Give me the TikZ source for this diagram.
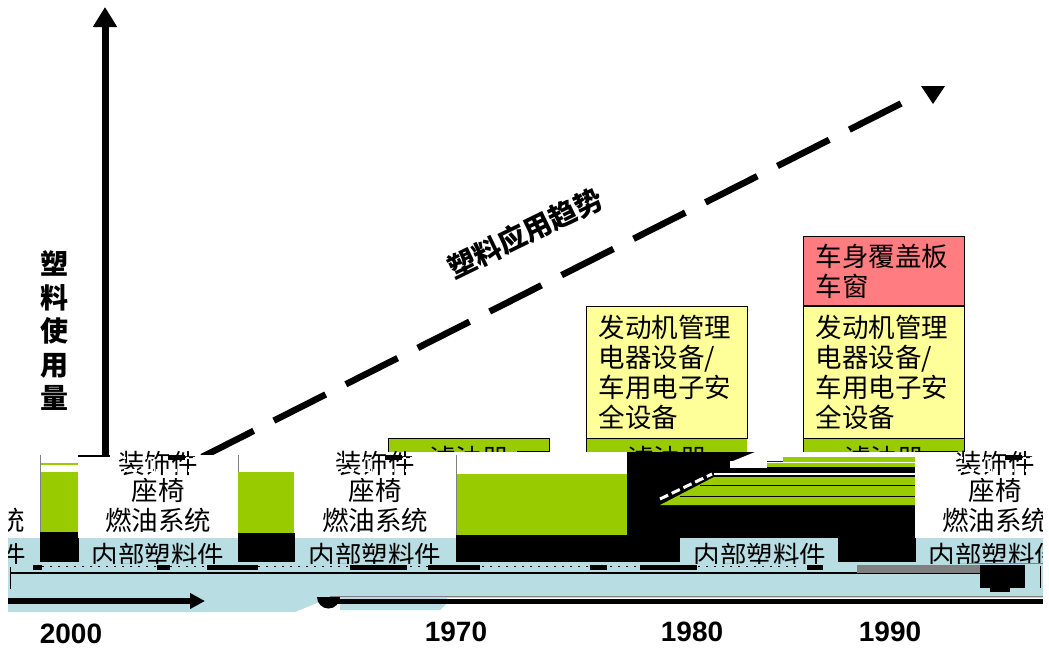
\documentclass[tikz,border=0pt]{standalone}
\usepackage{fontspec}
\setmainfont{Noto Sans CJK SC}
\newfontfamily\yearfont{Liberation Sans}
\usepackage{xcolor}
\usetikzlibrary{positioning,arrows.meta}
\definecolor{bandblue}{HTML}{B8DDE2}
\definecolor{barGreen}{HTML}{99CC00}
\definecolor{boxYellow}{HTML}{FFFF99}
\definecolor{boxRed}{HTML}{FF7C80}
\tikzset{
  label/.style={font=\fontsize{26.5}{30}\selectfont, inner sep=0pt},
  partbox/.style={draw=black, line width=1.2pt, anchor=north west, minimum width=161pt, label, text width=137pt, align=left, inner xsep=12pt, inner ysep=0pt},
  year/.style={font=\yearfont\bfseries\fontsize{28}{28}\selectfont, inner sep=0pt},
  axisline/.style={line width=7pt, -{Triangle[length=20pt,width=23pt]}},
}
\begin{document}
\begin{tikzpicture}[>=Stealth, x=1pt, y=-1pt, node distance=0pt]
	\useasboundingbox (0,0) rectangle (1049,654);

	\coordinate (trendstart) at (202,457);
	\coordinate (trendend) at (902,103);
	\coordinate (axisbottom) at (105,456);
	\coordinate (axistop) at (105,7);
	\draw[axisline] (axisbottom) -- (axistop);
	\draw[line width=6.5pt, dash pattern=on 58pt off 22.6pt] (trendstart) -- (trendend);
	\fill (921,86) -- (945,86) -- (933,104) -- cycle;

	\node[font=\bfseries\fontsize{28}{33.5}\selectfont, align=center, inner sep=0pt] (usage) at (54,331) {塑\\料\\使\\用\\量};
	\node[font=\bfseries\fontsize{28}{28}\selectfont, rotate=26, inner sep=0pt] (trend) at (525,233) {塑料应用趋势};

	% yellow stacks
	\node[partbox, fill=boxYellow, minimum height=132pt] (mid) at (586,306) {发动机管理\\电器设备/\\车用电子安\\全设备};
	\node[partbox, fill=boxYellow, minimum height=132pt] (top) at (803,306) {发动机管理\\电器设备/\\车用电子安\\全设备};
	\node[partbox, fill=boxRed, minimum height=69pt, above=0pt of top] (body) {车身覆盖板\\车窗};
	\foreach \name/\xa in {filterA/388, filterB/586, filterC/803}
		\node[partbox, fill=barGreen, minimum height=40pt, align=center] (\name) at (\xa,438) {滤油器};

	% columns
	\fill[white] (386,452) rectangle (627,479);
	\fill[black] (517,450.5) rectangle (549,452);
	\fill[black] (627,452) rectangle (916,538);
	\fill[white] (915,452) rectangle (1043,479);
	\fill[black] (915,450.5) rectangle (958,452);
	\fill[white] (747,439) rectangle (803,452);

	% lower band
	\fill[bandblue] (8,538) rectangle (1043,598);
	\fill[bandblue] (8,598) -- (8,612) -- (295,612) -- (317,603) -- (340,603) -- (340,610) -- (440,610) -- (447,603) -- (447,598) -- cycle;

	\fill[barGreen] (40,472) rectangle (78,532);
	\fill[barGreen] (40,463) rectangle (78,465);
	\fill[black] (40,532) rectangle (79,562);
	\draw[gray, line width=1pt] (40,455) -- (40,532);
	\fill[barGreen] (238,472) rectangle (294,533);
	\fill[black] (238,533) rectangle (295,562);
	\draw[gray, line width=1pt] (238,455) -- (238,472);
	\fill[barGreen] (457,474) rectangle (627,535);
	\fill[black] (456,535) rectangle (680,562);
	\fill[black] (627,535) rectangle (916,562);
	\draw[gray, line width=1pt] (456,455) -- (456,535);

	% stripes on the black column
	\fill[white] (733,461) -- (755,452) -- (915,452) -- (915,457) -- (783,457) -- (783,461) -- cycle;
	\fill[barGreen] (783,457) rectangle (915,462);
	\fill[white] (730,461) rectangle (767,468);
	\fill[white] (767,462) rectangle (915,463);
	\fill[barGreen] (767,463) rectangle (915,467);
	\fill[white] (714,473) rectangle (915,475);
	\fill[barGreen] (714,477) -- (915,477) -- (915,505) -- (660,505) -- cycle;
	\draw[black, line width=1pt] (700,485) -- (915,485);
	\draw[black, line width=1pt] (680,496) -- (915,496);
	\draw[white, line width=3pt, dash pattern=on 9pt off 4pt] (660,499) -- (712,474);

	% white part boxes
	\foreach \name/\xa/\xb/\xc in {partsA/78/238/158, partsB/295/456/375, partsC/915/1043/995} {
		\fill[white] (\xa,455) rectangle (\xb,538);
		\node[label] (\name seat) at (\xc,490) {座椅};
		\node[label] (\name fuel) at (\xc,520) {燃油系统};
		\node[label] (\name trim) at (\xc,463) {装饰件};
		\draw[white, line width=2pt, dash pattern=on 3pt off 4pt] (\xc-42,458) -- (\xc+42,458);
		\draw[white, line width=3pt, dash pattern=on 5pt off 3pt] (\xc-42,470) -- (\xc+42,470);
		\fill[white] (\xc-42,476) rectangle (\xc+42,478);
		\node[label] (\name inner) at (\xc,555) {内部塑料件};
	}
	\fill[bandblue] (680,538) rectangle (838,564);
	\node[label] (partsD) at (760,555) {内部塑料件};
	\node[label, anchor=east] (leftfuel) at (25,520) {统};
	\node[label, anchor=east] (leftinner) at (26,555) {件};

	% clip edges and broken rows
	\fill[bandblue] (8,564) rectangle (1043,598);
	\fill[white] (0,500) rectangle (8,620);
	\fill[white] (1043,450) rectangle (1049,620);
	\foreach \xa/\xb in {33/42, 157/170, 207/258, 350/407, 428/480, 590/607, 640/697, 807/823}
		\fill[black] (\xa,565) rectangle (\xb,570);
	\draw[black, line width=1pt, dash pattern=on 2pt off 6pt] (42,566) -- (800,566);
	\draw[black, line width=1.2pt] (10,573) -- (985,573);
	\fill[gray] (857,565) rectangle (980,573);
	\draw[gray, line width=1pt] (968,563) -- (1043,563);
	\fill[black] (980,565) rectangle (1025,588);
	\fill[black] (990,588) rectangle (1010,592);
	\draw[black, line width=1pt] (10,567) -- (10,589);
	\draw[black, line width=1pt] (1040,566) -- (1040,588);
	\fill[black] (78,455) rectangle (110,457);
	\foreach \xa in {168, 385, 1005}
		\fill[black] (\xa,455) rectangle (\xa+17,460);

	% time lines
	\coordinate (leftstart) at (8,601);
	\coordinate (leftend) at (205,601);
	\coordinate (rightstart) at (1043,601);
	\coordinate (rightend) at (327,601);
	\draw[gray, line width=1pt] (330,596.5) -- (1043,596.5);
	\draw[line width=6pt, -{Triangle[length=15pt,width=15pt]}] (leftstart) -- (leftend);
	\draw[line width=5pt] (rightstart) -- (rightend);
	\fill (317,597) arc[start angle=180, end angle=360, radius=11.5pt] -- cycle;

	\node[year] (yearA) at (71,634) {2000};
	\node[year] (yearB) at (456,632) {1970};
	\node[year] (yearC) at (692,632) {1980};
	\node[year] (yearD) at (890,632) {1990};
\end{tikzpicture}
\end{document}
